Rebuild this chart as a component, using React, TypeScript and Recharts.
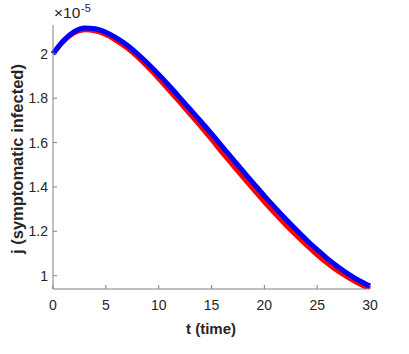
import { LineChart, Line, XAxis, YAxis } from 'recharts'

const times = [0, 1, 2, 3, 4, 5, 6, 7, 8, 9, 10, 11, 12, 13, 14, 15, 16, 17, 18, 19, 20, 21, 22, 23, 24, 25, 26, 27, 28, 29, 30]
const blueSeries = [
  2.0, 2.06, 2.1, 2.117, 2.113, 2.097, 2.072, 2.04, 2.0, 1.955, 1.907, 1.856, 1.803, 1.749, 1.695, 1.64,
  1.583, 1.527, 1.47, 1.415, 1.36, 1.308, 1.257, 1.208, 1.161, 1.117, 1.076, 1.039, 1.006, 0.977, 0.953,
]
const redSeries = [
  2.0, 2.057, 2.095, 2.109, 2.104, 2.087, 2.06, 2.027, 1.986, 1.939, 1.889, 1.836, 1.782, 1.727, 1.672, 1.615,
  1.556, 1.5, 1.443, 1.388, 1.333, 1.281, 1.231, 1.183, 1.137, 1.094, 1.055, 1.02, 0.99, 0.963, 0.941,
]
const xTicks = [0, 5, 10, 15, 20, 25, 30]
const yTicks = [1, 1.2, 1.4, 1.6, 1.8, 2]

const data = times.map((t, i) => ({ t, blue: blueSeries[i], red: redSeries[i] }))

const axisColor = '#808080'
const textColor = '#262626'
const font = '"Liberation Sans", Arial, Helvetica, sans-serif'
const tickStyle = { fontSize: 14, fill: textColor, fontFamily: font }

const noLabel = () => null

export default function App() {
  return (
    <div style={{ position: 'absolute', left: 0, top: 0, width: 409, height: 354, background: '#fff', fontFamily: font }}>
      <LineChart width={409} height={354} data={data} margin={{ top: 25, right: 39, left: 8, bottom: 35 }}>
        <XAxis
          dataKey="t"
          type="number"
          domain={[0, 30]}
          ticks={xTicks}
          stroke={axisColor}
          tickSize={-4}
          tickMargin={15}
          height={30}
          tick={tickStyle}
        />
        <XAxis
          xAxisId="top"
          orientation="top"
          dataKey="t"
          type="number"
          domain={[0, 30]}
          ticks={xTicks}
          stroke={axisColor}
          tickSize={-4}
          height={0}
          tick={noLabel}
        />
        <YAxis
          type="number"
          domain={[0.94, 2.13]}
          ticks={yTicks}
          allowDataOverflow
          stroke={axisColor}
          tickSize={-4}
          tickMargin={9}
          width={45}
          tick={tickStyle}
        />
        <YAxis
          yAxisId="right"
          orientation="right"
          type="number"
          domain={[0.94, 2.13]}
          ticks={yTicks}
          allowDataOverflow
          stroke={axisColor}
          tickSize={-4}
          width={0}
          tick={noLabel}
        />
        <Line dataKey="red" type="monotone" stroke="#ff0000" strokeWidth={5} dot={false} isAnimationActive={false} />
        <Line dataKey="blue" type="monotone" stroke="#0000ff" strokeWidth={5} dot={false} isAnimationActive={false} />
      </LineChart>
      <span style={{ position: 'absolute', left: 54, top: 4, fontSize: 15.5, lineHeight: '18px', color: textColor }}>×10</span>
      <span style={{ position: 'absolute', left: 81, top: 2, fontSize: 11, lineHeight: '12px', color: textColor }}>-5</span>
      <div
        style={{
          position: 'absolute',
          left: 17,
          top: 159,
          transform: 'translate(-50%, -50%) rotate(-90deg)',
          whiteSpace: 'nowrap',
          fontSize: 16.5,
          fontWeight: 'bold',
          color: textColor,
        }}
      >
        j (symptomatic infected)
      </div>
      <div
        style={{
          position: 'absolute',
          left: 211,
          top: 328,
          transform: 'translate(-50%, -50%)',
          whiteSpace: 'nowrap',
          fontSize: 15,
          fontWeight: 'bold',
          color: textColor,
        }}
      >
        t (time)
      </div>
    </div>
  )
}
